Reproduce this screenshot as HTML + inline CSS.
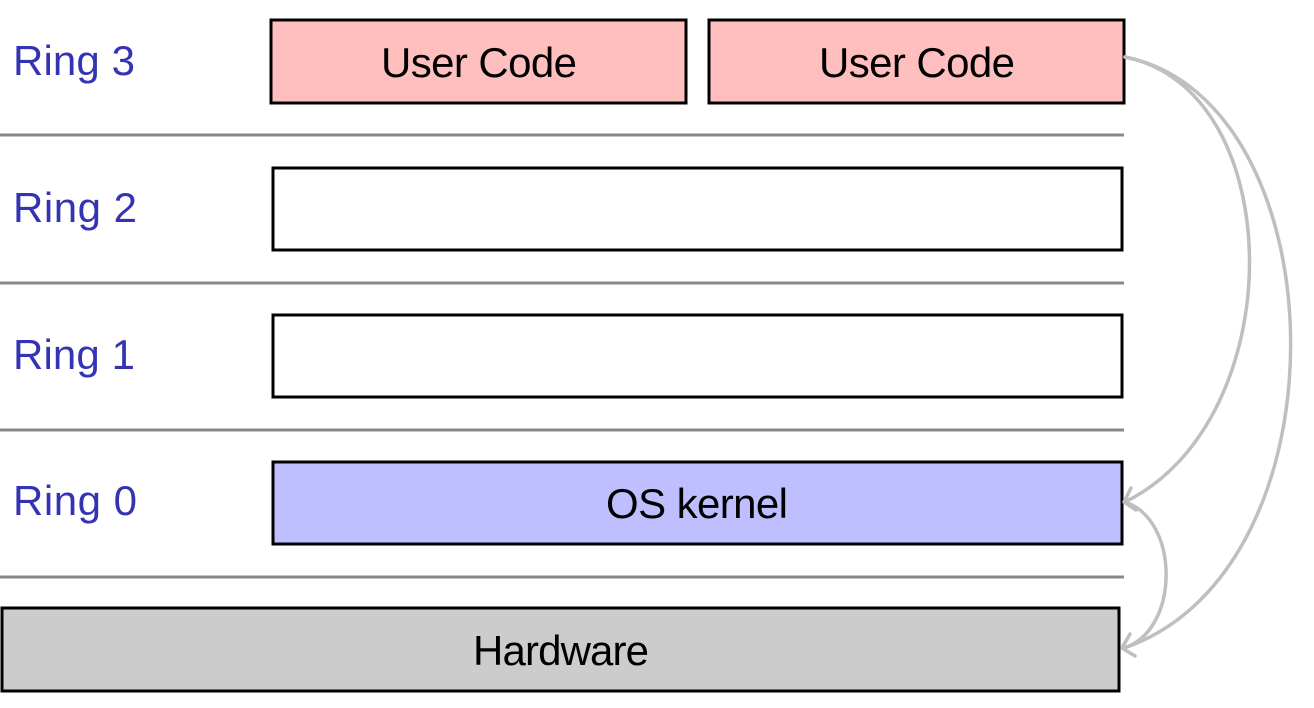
<!DOCTYPE html>
<html><head><meta charset="utf-8"><style>html,body{margin:0;padding:0;background:#fff}svg{display:block}</style></head>
<body>
<svg width="1314" height="708" viewBox="0 0 1314 708" xmlns="http://www.w3.org/2000/svg" font-family="Liberation Sans, sans-serif">
<g stroke="#888" stroke-width="3">
<line x1="0" y1="135" x2="1124" y2="135"/>
<line x1="0" y1="283" x2="1124" y2="283"/>
<line x1="0" y1="430" x2="1124" y2="430"/>
<line x1="0" y1="577" x2="1124" y2="577"/>
</g>
<g stroke="#000" stroke-width="3">
<rect x="271" y="20" width="415" height="83" fill="#ffbfbf"/>
<rect x="709" y="20" width="415" height="83" fill="#ffbfbf"/>
<rect x="273" y="168" width="849" height="82" fill="#fff"/>
<rect x="273" y="315" width="849" height="82" fill="#fff"/>
<rect x="273" y="462" width="849" height="82" fill="#bfbfff"/>
<rect x="2" y="608" width="1117" height="83" fill="#ccc"/>
</g>
<g fill="#3333b3" font-size="42">
<text x="13" y="75" textLength="122">Ring 3</text>
<text x="13" y="222" textLength="124">Ring 2</text>
<text x="13" y="369" textLength="122">Ring 1</text>
<text x="13" y="515" textLength="124">Ring 0</text>
</g>
<g fill="#000" font-size="42" text-anchor="middle">
<text x="479" y="77" textLength="196">User Code</text>
<text x="917" y="77" textLength="196">User Code</text>
<text x="697" y="518" textLength="182">OS kernel</text>
<text x="561" y="665" textLength="176">Hardware</text>
</g>
<g fill="none" stroke="#bfbfbf" stroke-width="3.5" stroke-linecap="round" stroke-linejoin="round">
<path d="M1125,57 C1290,90 1292,420 1125,502"/>
<path d="M1125,57 C1340,100 1352,570 1124,648"/>
<path d="M1125,502 C1180,520 1180,630 1124,648"/>
<path d="M1131,488 L1124,502 L1136,510"/>
<path d="M1130,634 L1122,648 L1135,656"/>
</g>
</svg>
</body></html>
